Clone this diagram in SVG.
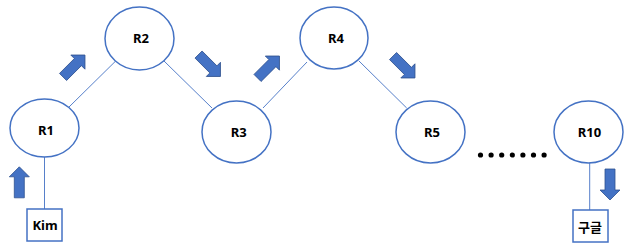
<svg xmlns="http://www.w3.org/2000/svg" width="633" height="252" viewBox="0 0 633 252">
<defs>
<style>
.node ellipse{fill:#fff;stroke:#4472C4;stroke-width:1.5}
.box rect{fill:#fff;stroke:#4472C4;stroke-width:1.5}
.lbl{font-family:"Noto Sans","Noto Sans CJK KR",sans-serif;font-weight:bold;font-size:13px;fill:#000;text-anchor:middle}
.conn line{stroke:#4472C4;stroke-width:0.9}
.arr{fill:#4472C4;stroke:#2F528F;stroke-width:0.8}
</style>
<path id="blk" d="M0,-15.5 L10,-5.5 L5,-5.5 L5,15.5 L-5,15.5 L-5,-5.5 L-10,-5.5 Z"/>
</defs>
<rect width="633" height="252" fill="#fff"/>
<g id="connectors" class="conn">
<line x1="69" y1="107" x2="115.7" y2="61"/>
<line x1="164" y1="61" x2="212" y2="108"/>
<line x1="263" y1="108" x2="307" y2="62"/>
<line x1="359" y1="61" x2="406.7" y2="108"/>
<line x1="44.5" y1="157" x2="44.5" y2="209"/>
<line x1="589.7" y1="163" x2="589.7" y2="210"/>
</g>
<g id="arrows">
<use href="#blk" class="arr" transform="translate(19.3,182.3)"/>
<use href="#blk" class="arr" transform="translate(74,66) rotate(45)"/>
<use href="#blk" class="arr" transform="translate(209.5,65.5) rotate(135)"/>
<use href="#blk" class="arr" transform="translate(268.5,67) rotate(45)"/>
<use href="#blk" class="arr" transform="translate(404,67) rotate(135)"/>
<use href="#blk" class="arr" transform="translate(610,184.5) rotate(180)"/>
</g>
<g id="R1" class="node"><ellipse cx="44.5" cy="128" rx="34.5" ry="29"/><text class="lbl" x="46" y="135">R1</text></g>
<g id="R2" class="node"><ellipse cx="139.5" cy="38.5" rx="34.5" ry="31.5"/><text class="lbl" x="141" y="42.7">R2</text></g>
<g id="R3" class="node"><ellipse cx="236.5" cy="132" rx="34.5" ry="31"/><text class="lbl" x="238.7" y="136.7">R3</text></g>
<g id="R4" class="node"><ellipse cx="334" cy="38" rx="34" ry="31"/><text class="lbl" x="336" y="42.7">R4</text></g>
<g id="R5" class="node"><ellipse cx="430.5" cy="132" rx="34.5" ry="31"/><text class="lbl" x="432" y="136.7">R5</text></g>
<g id="R10" class="node"><ellipse cx="588.5" cy="132" rx="34.5" ry="31"/><text class="lbl" x="589.5" y="136.7">R10</text></g>
<g id="Kim" class="box"><rect x="27" y="209" width="35" height="32"/><text class="lbl" x="45" y="230">Kim</text></g>
<g id="Google" class="box"><rect x="573" y="210" width="35" height="32"/><text class="lbl" x="590" y="231.7">구글</text></g>
<g id="dots" fill="#000">
<circle cx="480.5" cy="155" r="2.6"/><circle cx="491.1" cy="155" r="2.6"/><circle cx="501.7" cy="155" r="2.6"/><circle cx="512.3" cy="155" r="2.6"/><circle cx="522.9" cy="155" r="2.6"/><circle cx="533.5" cy="155" r="2.6"/><circle cx="544.1" cy="155" r="2.6"/>
</g>
</svg>
